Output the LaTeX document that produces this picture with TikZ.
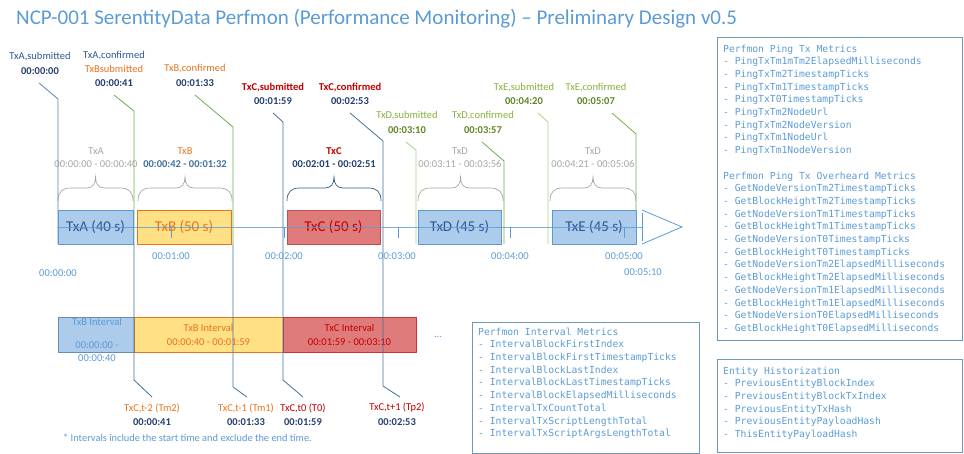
\documentclass[tikz,border=0pt]{standalone}
\usepackage{fontspec}
\setmainfont{Carlito}
\newfontfamily\monof{DejaVu Sans Mono}
\definecolor{ttl}{HTML}{5B9BD5}
\definecolor{navy}{HTML}{243F6E}
\definecolor{dblue}{HTML}{2F5597}
\definecolor{orng}{HTML}{E8731F}
\definecolor{dred}{HTML}{C00000}
\definecolor{grn}{HTML}{70AD47}
\definecolor{lgrn}{HTML}{A9D18E}
\definecolor{gtxt}{HTML}{86B03A}
\definecolor{olive}{HTML}{5F8525}
\definecolor{gry}{HTML}{A6A6A6}
\definecolor{slate}{HTML}{41719C}
\definecolor{bfill}{HTML}{ADCBEA}
\definecolor{yfill}{HTML}{FFE084}
\definecolor{rfill}{HTML}{E07B7B}
\definecolor{rline}{HTML}{C0504D}
\definecolor{framec}{HTML}{6E9AB8}
\definecolor{dteal}{HTML}{2E5F80}
\definecolor{lblue}{HTML}{5A82B8}
\newcommand\brc[3]{%
 \draw[#3, line width=0.7pt] (#1,201) .. controls (#1,192) and (#1+4,188) .. (#1+13,188)
  -- ({(#1+#2)/2-9},188) .. controls ({(#1+#2)/2-3},188) and ({(#1+#2)/2},184) .. ({(#1+#2)/2},177)
  .. controls ({(#1+#2)/2},184) and ({(#1+#2)/2+3},188) .. ({(#1+#2)/2+9},188)
  -- (#2-13,188) .. controls (#2-4,188) and (#2,192) .. (#2,201);}
\begin{document}
\begin{tikzpicture}[x=1pt,y=-1pt,
  lbl/.style={font=\fontsize{10.5}{12}\selectfont, inner sep=0pt},
  tsb/.style={font=\bfseries\fontsize{10.5}{12}\selectfont, inner sep=0pt, text=navy},
  tick/.style={font=\fontsize{10.5}{12}\selectfont, inner sep=0pt, text=ttl},
  txbox/.style={draw, line width=0.9pt, minimum height=34pt, inner sep=0pt, font=\fontsize{15}{18}\selectfont},
  bluebox/.style={txbox, fill=bfill, draw=ttl, text=dblue},
  ivbox/.style={draw, line width=0.9pt, minimum height=35pt, inner sep=0pt, align=center, font=\fontsize{10.5}{14}\selectfont},
  lead/.style={line width=0.8pt},
  mono/.style={font=\monof\fontsize{9.7}{12.7}\selectfont, text=ttl, inner sep=0pt, anchor=north west, align=left},
  frm/.style={draw=framec, line width=1pt, anchor=north west, inner sep=0pt}
]
\useasboundingbox (0,0) rectangle (964,454);

% title
\node[anchor=west, text=ttl, font=\fontsize{21}{24}\selectfont, inner sep=0pt] (title) at (16,19)
 {NCP-001 SerentityData Perfmon (Performance Monitoring) – Preliminary Design v0.5};

% top event labels
\node[lbl, text=dblue] (eA1) at (40,57) {TxA,submitted};
\node[tsb] (eA2) at (40,71) {00:00:00};
\node[lbl, text=dblue] (eB1) at (114,56) {TxA,confirmed};
\node[lbl, text=orng] (eB2) at (114,69) {TxBsubmitted};
\node[tsb] (eB3) at (114,83) {00:00:41};
\node[lbl, text=orng] (eC1) at (195,69) {TxB,confirmed};
\node[tsb] (eC2) at (195,83) {00:01:33};
\node[lbl, text=dred, font=\bfseries\fontsize{10.5}{12}\selectfont] (eD1) at (273,88) {TxC,submitted};
\node[tsb] (eD2) at (273,101) {00:01:59};
\node[lbl, text=dred, font=\bfseries\fontsize{10.5}{12}\selectfont] (eE1) at (350,88) {TxC,confirmed};
\node[tsb] (eE2) at (350,101) {00:02:53};
\node[lbl, text=gtxt] (eF1) at (407,116) {TxD,submitted};
\node[tsb, text=olive] (eF2) at (407,130) {00:03:10};
\node[lbl, text=gtxt] (eG1) at (483,116) {TxD,confirmed};
\node[tsb, text=olive] (eG2) at (483,130) {00:03:57};
\node[lbl, text=gtxt] (eH1) at (524,88) {TxE,submitted};
\node[tsb, text=olive] (eH2) at (524,101) {00:04:20};
\node[lbl, text=gtxt] (eI1) at (596,88) {TxE,confirmed};
\node[tsb, text=olive] (eI2) at (596,101) {00:05:07};

% brace labels
\node[lbl, text=gry] (bA1) at (96,151) {TxA};
\node[lbl, text=gry] (bA2) at (96,164) {00:00:00 - 00:00:40};
\node[lbl, text=orng] (bB1) at (185,151) {TxB};
\node[lbl, text=slate, font=\bfseries\fontsize{10.5}{12}\selectfont] (bB2) at (185,164) {00:00:42 - 00:01:32};
\node[lbl, text=dred, font=\bfseries\fontsize{10.5}{12}\selectfont] (bC1) at (334,151) {TxC};
\node[tsb] (bC2) at (334,164) {00:02:01 - 00:02:51};
\node[lbl, text=gry] (bD1) at (460,151) {TxD};
\node[lbl, text=gry] (bD2) at (460,164) {00:03:11 - 00:03:56};
\node[lbl, text=gry] (bE1) at (593,151) {TxD};
\node[lbl, text=gry] (bE2) at (593,164) {00:04:21 - 00:05:06};

% braces
\brc{58}{133}{gry}
\brc{138}{232}{gry}
\brc{287}{381}{dteal}
\brc{418}{503}{gry}
\brc{550}{636}{gry}

% interval boxes
\node[ivbox, fill=bfill, draw=slate!80, minimum width=76pt] (iA) at (96,334.5) {};
\node[ivbox, fill=yfill, draw=orng, text=orng, minimum width=149pt] (iB) at (208.5,334.5) {TxB Interval\\00:00:40 - 00:01:59};
\node[ivbox, fill=rfill, draw=dred!80, text=dred, minimum width=133pt] (iC) at (349.5,334.5) {TxC Interval\\00:01:59 - 00:03:10};
\node[tick] (iA1) at (97,322) {TxB Interval};
\node[tick] (iA2) at (97,345) {00:00:00 -};
\node[tick] (iA3) at (97,358) {00:00:40};
\node[tick] (dots) at (438,337) {...};

% top leader lines
\coordinate (a0) at (39,83);  \coordinate (a1) at (58,244);
\draw[lead, lblue] (a0) -- (58,99) -- (a1);
\coordinate (b0) at (114,95); \coordinate (b1) at (134,244);
\draw[lead, grn] (b0) -- (134,111) -- (b1);
\coordinate (c0) at (195,95); \coordinate (c1) at (233,244);
\draw[lead, grn] (c0) -- (233,127) -- (c1);
\coordinate (f0) at (406,142); \coordinate (f1) at (416,244);
\draw[lead, lgrn] (f0) -- (416,150) -- (f1);
\coordinate (g0) at (482,142); \coordinate (g1) at (504,244);
\draw[lead, grn] (g0) -- (504,161) -- (g1);
\coordinate (h0) at (538,113); \coordinate (h1) at (548,244);
\draw[lead, lgrn] (h0) -- (548,122) -- (h1);
\coordinate (k0) at (612,113); \coordinate (k1) at (636,244);
\draw[lead, grn] (k0) -- (636,134) -- (k1);

% tx boxes
\node[bluebox, minimum width=75pt] (bxA) at (95.5,227) {TxA (40 s)};
\node[txbox, fill=yfill, draw=orng, text=orng, minimum width=94pt] (bxB) at (184,227) {TxB (50 s)};
\node[txbox, fill=rfill, draw=rline, text=dred, minimum width=93pt] (bxC) at (333.5,227) {TxC (50 s)};
\node[bluebox, minimum width=83pt] (bxD) at (459.5,227) {TxD (45 s)};
\node[bluebox, minimum width=84pt] (bxE) at (594,227) {TxE (45 s)};

% leader lines crossing down
\coordinate (d0) at (273,113); \coordinate (d1) at (303,397);
\draw[lead, slate] (d0) -- (283,122) -- (283,380) -- (d1);
\coordinate (e0) at (350,113); \coordinate (e1) at (400,397);
\draw[lead, slate] (e0) -- (383,141) -- (383,386) -- (e1);
\coordinate (m0) at (134,244); \coordinate (m1) at (152,397);
\draw[lead, slate] (m0) -- (134,380) -- (m1);
\coordinate (n0) at (233,244); \coordinate (n1) at (247,397);
\draw[lead, slate] (n0) -- (233,387) -- (n1);

% axis
\coordinate (ax0) at (58,227); \coordinate (ax1) at (642,227);
\draw[ttl, line width=0.8pt, opacity=0.8] (ax0) -- (ax1);
\coordinate (tri) at (682,227);
\draw[ttl, line width=0.8pt] (642,210) -- (tri) -- (642,244);
\draw[ttl, line width=0.8pt] (642,213) -- (642,241);
\foreach \xx in {171,284,398,510,624} \draw[ttl, line width=0.8pt] (\xx,227) -- (\xx,238);

% tick labels
\node[tick] (t0) at (58,273) {00:00:00};
\node[tick] (t1) at (171,256) {00:01:00};
\node[tick] (t2) at (284,256) {00:02:00};
\node[tick] (t3) at (397,256) {00:03:00};
\node[tick] (t4) at (510,256) {00:04:00};
\node[tick] (t5) at (624,256) {00:05:00};
\node[tick] (t6) at (643,272) {00:05:10};

% bottom labels
\node[lbl, text=orng] (q1) at (152,408) {TxC,t-2 (Tm2)};
\node[tsb] (q1t) at (152,422) {00:00:41};
\node[lbl, text=orng] (q2) at (246,408) {TxC,t-1 (Tm1)};
\node[tsb] (q2t) at (246,422) {00:01:33};
\node[lbl, text=dred] (q3) at (303,408) {TxC,t0 (T0)};
\node[tsb] (q3t) at (303,422) {00:01:59};
\node[lbl, text=dred] (q4) at (397,408) {TxC,t+1 (Tp2)};
\node[tsb] (q4t) at (397,422) {00:02:53};
\node[anchor=west, inner sep=0pt, text=ttl, font=\fontsize{10.4}{12}\selectfont] (foot) at (63,438)
 {* Intervals include the start time and exclude the end time.};

% metric boxes
\node[frm, minimum width=245pt, minimum height=303pt] (fping) at (717,37) {};
\node[mono] (tping) at (723,44.5) {Perfmon Ping Tx Metrics\\
- PingTxTm1mTm2ElapsedMilliseconds\\
- PingTxTm2TimestampTicks\\
- PingTxTm1TimestampTicks\\
- PingTxT0TimestampTicks\\
- PingTxTm2NodeUrl\\
- PingTxTm2NodeVersion\\
- PingTxTm1NodeUrl\\
- PingTxTm1NodeVersion\\[12.7pt]
Perfmon Ping Tx Overheard Metrics\\
- GetNodeVersionTm2TimestampTicks\\
- GetBlockHeightTm2TimestampTicks\\
- GetNodeVersionTm1TimestampTicks\\
- GetBlockHeightTm1TimestampTicks\\
- GetNodeVersionT0TimestampTicks\\
- GetBlockHeightT0TimestampTicks\\
- GetNodeVersionTm2ElapsedMilliseconds\\
- GetBlockHeightTm2ElapsedMilliseconds\\
- GetNodeVersionTm1ElapsedMilliseconds\\
- GetBlockHeightTm1ElapsedMilliseconds\\
- GetNodeVersionT0ElapsedMilliseconds\\
- GetBlockHeightT0ElapsedMilliseconds};

\node[frm, minimum width=227pt, minimum height=131pt] (fint) at (472,322) {};
\node[mono] (tint) at (478,327.5) {Perfmon Interval Metrics\\
- IntervalBlockFirstIndex\\
- IntervalBlockFirstTimestampTicks\\
- IntervalBlockLastIndex\\
- IntervalBlockLastTimestampTicks\\
- IntervalBlockElapsedMilliseconds\\
- IntervalTxCountTotal\\
- IntervalTxScriptLengthTotal\\
- IntervalTxScriptArgsLengthTotal};

\node[frm, minimum width=245pt, minimum height=93pt] (fent) at (717,359) {};
\node[mono] (tent) at (723,366.5) {Entity Historization\\
- PreviousEntityBlockIndex\\
- PreviousEntityBlockTxIndex\\
- PreviousEntityTxHash\\
- PreviousEntityPayloadHash\\
- ThisEntityPayloadHash};
\end{tikzpicture}
\end{document}
